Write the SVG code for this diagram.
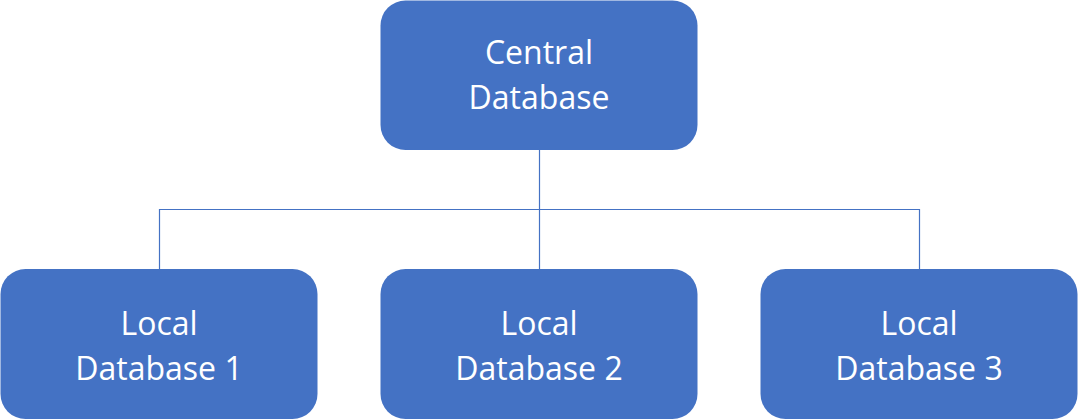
<svg xmlns="http://www.w3.org/2000/svg" width="1078" height="420" viewBox="0 0 1078 420">
<style>
.box{fill:#4472C4;}
.lbl{fill:#ffffff;font-family:"Open Sans","Liberation Sans",sans-serif;font-size:32px;text-anchor:middle;}
.con{fill:none;stroke:#4472C4;stroke-width:1.2;}
</style>
<rect width="1078" height="420" fill="#ffffff"/>
<g id="connectors">
<path class="con" d="M539.5 150 V269"/>
<path class="con" d="M159.5 269 V209.5 H919.5 V269"/>
</g>
<g id="central">
<rect class="box" x="380.5" y="0.5" width="317" height="149.5" rx="25"/>
<text class="lbl" x="539" y="64">Central</text>
<text class="lbl" x="539" y="109">Database</text>
</g>
<g id="local1">
<rect class="box" x="0.5" y="269" width="317" height="150" rx="25"/>
<text class="lbl" x="159" y="335">Local</text>
<text class="lbl" x="159" y="380">Database 1</text>
</g>
<g id="local2">
<rect class="box" x="380.5" y="269" width="317" height="150" rx="25"/>
<text class="lbl" x="539" y="335">Local</text>
<text class="lbl" x="539" y="380">Database 2</text>
</g>
<g id="local3">
<rect class="box" x="760.5" y="269" width="317" height="150" rx="25"/>
<text class="lbl" x="919" y="335">Local</text>
<text class="lbl" x="919" y="380">Database 3</text>
</g>
</svg>
